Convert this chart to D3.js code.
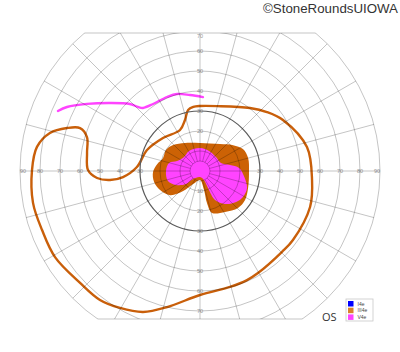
<!DOCTYPE html>
<html><head><meta charset="utf-8">
<script src="https://cdn.jsdelivr.net/npm/d3@7"></script>
<style>body{margin:0;background:#fff}svg{display:block}</style>
</head><body><svg id="c" width="400" height="352"></svg>
<script>
// ---- data ----
const ringValues = [5, 10, 20, 30, 40, 50, 60, 70, 80, 90];
const labelValues = [10, 20, 30, 40, 50, 60, 70, 80, 90];
const meridianAngles = [0, 15, 30, 45, 60, 75, 90, 105, 120, 135, 150, 165, 180, 195, 210, 225, 240, 255, 270, 285, 300, 315, 330, 345];
const superiorLimit = 69;
const inferiorLimit = 74;
const legendLabels = ["I4e", "III4e", "V4e"];
const legendColors = ["#0000ff", "#d9822b", "#ff44ff"];
// isopters as [angle (deg, counter-clockwise from right), eccentricity (deg)]
const iii4eLine = [
  [96, 32.2], [90, 32.5], [75, 33.6], [51.6, 40.2], [41.4, 44.6], [31.6, 48.7], [12.6, 54.8],
  [-4.6, 56.2], [-18.1, 57.9], [-36.6, 57.9], [-44.6, 57.6], [-60.4, 58.7], [-66.7, 59.4],
  [-75.5, 59.9], [-90, 62], [-103.6, 70], [-112, 76], [-120.3, 79.3], [-127.8, 81.6],
  [-137, 82], [-149.3, 84.3], [-159.5, 84.3], [-169.2, 85], [179.7, 84], [171.6, 82.4],
  [165.8, 77.4], [162.1, 69.9], [160.3, 63.7], [163.3, 59], [170.9, 57.2], [179.5, 56],
  [-176.1, 51.6], [-174.3, 45.2], [-175.5, 38.6], [176.4, 31.6], [158.4, 28.5], [138.3, 24.8],
  [116, 22.8], [106.4, 26.6], [101, 31.1]
];
const v4eLine = [
  [157.1, 77.1], [154.3, 73.8], [149.3, 65.7], [142.9, 56.4], [136.3, 48.5], [134.1, 44.6],
  [132.1, 42.5], [125, 40.9], [114, 40.5], [106.6, 40.2], [97.5, 38.3], [87.7, 37]
];
const iii4eArea = [
  [90, 14], [53.5, 16.8], [38, 21], [27, 24.1], [15, 24.9], [-1, 24.5], [-19.5, 25.5],
  [-32.8, 26.8], [-44.2, 26.5], [-58.6, 24], [-74, 21.8], [-77.7, 16.4], [-78, 9.7],
  [-90, 4.5], [-118, 7.4], [-130, 13.1], [-141, 19.2], [-154.6, 22.1], [-166.6, 23.6],
  [181.2, 23.5], [171, 21.7], [160.6, 19.6], [148.3, 20], [136, 18.7], [118, 15.9]
];
const v4eArea = [
  [90, 11.5], [65.8, 11], [41.2, 10.6], [20.9, 11.2], [11.3, 15.3], [4.4, 19.6], [-6.5, 22.1],
  [-19.9, 25], [-31.2, 25.1], [-40.7, 23.8], [-52.9, 20.7], [-62.6, 16.3], [-64.8, 9.4],
  [-66, 4.9], [-90, 3], [-131, 5.3], [-137, 9.6], [-149.7, 13.9], [-162.6, 16.8],
  [180, 17], [165.5, 16], [156.5, 12.5], [138.8, 10.6], [118.8, 11.4]
];

// ---- drawing ----
const svg = d3.select("#c");
const cx = 200, cy = 171;
const r = d3.scaleLinear().domain([0, 90]).range([0, 180]);
const theta = d3.scaleLinear().domain([0, 360]).range([Math.PI / 2, Math.PI / 2 - 2 * Math.PI]);
const px = (a, e) => cx + r(e) * Math.sin(theta(a));
const py = (a, e) => cy - r(e) * Math.cos(theta(a));

const topY = cy - r(superiorLimit), botY = cy + r(inferiorLimit);
svg.append("defs").append("clipPath").attr("id", "fieldClip")
  .append("rect").attr("x", 0).attr("y", topY).attr("width", 400).attr("height", botY - topY);

const g = svg.append("g").attr("transform", `translate(${cx},${cy})`);
const gridColor = "rgba(0,0,0,0.26)";

// labels (under fills)
const lab = g.append("g").attr("font-family", "Liberation Sans, Arial, sans-serif")
  .attr("font-size", 5.5).attr("fill", "#9a9a9a").attr("text-anchor", "middle");
labelValues.forEach(v => {
  const rr = Math.min(r(v), r(88.5));
  lab.append("text").attr("x", -rr).attr("y", 2).text(v);
  lab.append("text").attr("x", rr).attr("y", 2).text(v);
  if (v <= superiorLimit + 1) lab.append("text").attr("x", 0).attr("y", -Math.min(r(v), r(superiorLimit) - 3) + 2).text(v);
  if (v <= inferiorLimit) lab.append("text").attr("x", 0).attr("y", r(v) + 2).text(v);
});

// filled areas
const area = d3.lineRadial().angle(d => theta(d[0])).radius(d => r(d[1]))
  .curve(d3.curveCatmullRomClosed.alpha(0.5));
g.append("path").attr("d", area(iii4eArea)).attr("fill", "#cc6205");
g.append("path").attr("d", area(v4eArea)).attr("fill", "#ff44ff");

// grid (on top of fills, translucent)
const grid = svg.append("g").attr("clip-path", "url(#fieldClip)")
  .append("g").attr("transform", `translate(${cx},${cy})`);
grid.selectAll("circle.ring").data(ringValues).join("circle")
  .attr("r", d => r(d)).attr("fill", "none")
  .attr("stroke", d => d === 30 ? "#5a5a5a" : gridColor)
  .attr("stroke-width", d => d === 30 ? 1.2 : 0.9);
grid.selectAll("line.mer").data(meridianAngles).join("line")
  .attr("x1", d => r(5) * Math.sin(theta(d))).attr("y1", d => -r(5) * Math.cos(theta(d)))
  .attr("x2", d => r(90) * Math.sin(theta(d))).attr("y2", d => -r(90) * Math.cos(theta(d)))
  .attr("stroke", gridColor).attr("stroke-width", 0.9);
// top / bottom limit chords
[superiorLimit, -inferiorLimit].forEach(v => {
  const dy = r(Math.abs(v));
  const hw = Math.sqrt(r(90) * r(90) - dy * dy);
  g.append("line").attr("x1", -hw).attr("x2", hw)
    .attr("y1", v > 0 ? -dy : dy).attr("y2", v > 0 ? -dy : dy)
    .attr("stroke", gridColor).attr("stroke-width", 0.9);
});

// isopter lines
const closed = d3.lineRadial().angle(d => theta(d[0])).radius(d => r(d[1]))
  .curve(d3.curveCatmullRomClosed.alpha(0.5));
const open = d3.lineRadial().angle(d => theta(d[0])).radius(d => r(d[1]))
  .curve(d3.curveCatmullRom.alpha(0.5));
g.append("path").attr("d", closed(iii4eLine)).attr("fill", "none")
  .attr("stroke", "#c95f0a").attr("stroke-width", 2.4).attr("stroke-linejoin", "round");
g.append("path").attr("d", open(v4eLine)).attr("fill", "none")
  .attr("stroke", "#ff44ff").attr("stroke-width", 2.4).attr("stroke-linecap", "round");

// title
svg.append("text").attr("x", 398).attr("y", 13).attr("text-anchor", "end")
  .attr("font-family", "Liberation Sans, Arial, sans-serif").attr("font-size", 13.3)
  .attr("fill", "#333").text("©StoneRoundsUIOWA");

// eye label
svg.append("text").attr("x", 322).attr("y", 321)
  .attr("font-family", "Open Sans, sans-serif").attr("font-size", 11)
  .attr("fill", "#333").text("OS");

// legend
const lg = svg.append("g").attr("transform", "translate(346,299)");
lg.append("rect").attr("width", 27).attr("height", 22).attr("fill", "#fff")
  .attr("stroke", "#c8c8c8").attr("stroke-width", 0.8);
const rows = lg.selectAll("g.row").data(legendLabels).join("g")
  .attr("transform", (d, i) => `translate(2,${2 + i * 6.7})`);
rows.append("rect").attr("width", 5.5).attr("height", 5.5).attr("fill", (d, i) => legendColors[i]);
rows.append("text").attr("x", 9.5).attr("y", 4.7).attr("font-size", 5)
  .attr("font-family", "Liberation Sans, Arial, sans-serif").attr("fill", "#444").text(d => d);
</script></body></html>
